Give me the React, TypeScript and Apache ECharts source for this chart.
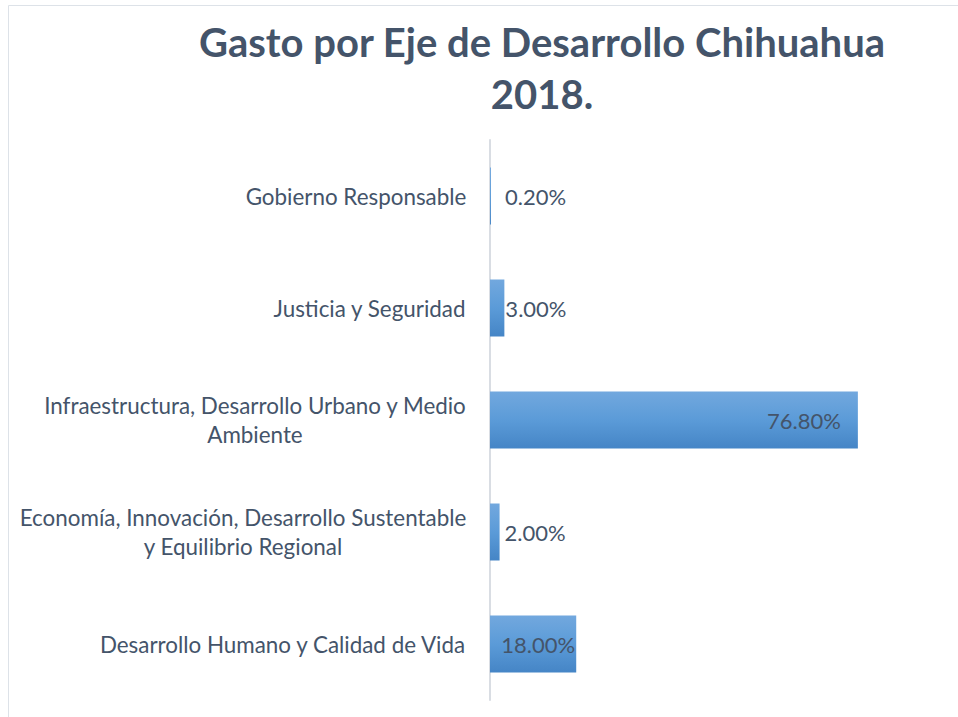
import React, { useEffect, useRef } from "react";
import * as echarts from "echarts";

const titleLines = ["Gasto por Eje de Desarrollo Chihuahua", "2018."];
const categoryLines: string[][] = [
  ["Gobierno Responsable"],
  ["Justicia y Seguridad"],
  ["Infraestructura, Desarrollo Urbano y Medio", "Ambiente"],
  ["Economía, Innovación, Desarrollo Sustentable", "y Equilibrio Regional"],
  ["Desarrollo Humano y Calidad de Vida"],
];
const values = [0.2, 3.0, 76.8, 2.0, 18.0];
const labelPositions = ["right", "right", "insideRight", "right", "insideRight"];
const labelDistances = [14, 1, 17, 5, 1];

const TEXT = "#44546A";
const FONT = "Lato";
const CAT_SIZE = 22.4;
const VAL_SIZE = 22;

export default function App() {
  const ref = useRef<HTMLDivElement>(null);
  useEffect(() => {
    if (!ref.current) return;
    const chart = echarts.init(ref.current, undefined, { renderer: "svg" });
    const canvas = document.createElement("canvas");
    const ctx = canvas.getContext("2d")!;
    ctx.font = `${CAT_SIZE}px ${FONT}`;
    const rich: Record<string, any> = {};
    categoryLines.forEach((lines, i) => {
      const w = Math.max(...lines.map((l) => ctx.measureText(l).width));
      rich["c" + i] = {
        width: Math.ceil(w) + 1,
        align: "center",
        fontSize: CAT_SIZE,
        fontFamily: FONT,
        color: TEXT,
        lineHeight: 29,
      };
    });
    const option: any = {
      animation: false,
      backgroundColor: "#ffffff",
      title: {
        text: titleLines.join("\n"),
        left: 537,
        top: 11,
        textAlign: "center",
        textStyle: {
          fontFamily: FONT,
          fontWeight: "bold",
          fontSize: 40,
          color: TEXT,
          lineHeight: 52,
        },
      },
      graphic: [
        {
          type: "rect",
          shape: { x: 8.5, y: 5.5, width: 1000, height: 800 },
          style: { fill: "none", stroke: "#dde2e8", lineWidth: 1 },
          silent: true,
        },
      ],
      grid: { left: 490, top: 140, width: 479, height: 560 },
      xAxis: {
        type: "value",
        min: 0,
        max: 100,
        show: false,
      },
      yAxis: {
        type: "category",
        inverse: true,
        data: categoryLines.map((l) => l.join(" ")),
        axisLine: { show: true, lineStyle: { color: "#d9dde3", width: 2 } },
        axisTick: { show: false },
        axisLabel: {
          margin: 23,
          formatter: (_v: string, i: number) =>
            categoryLines[i].map((l) => `{c${i}|${l}}`).join("\n"),
          rich,
        },
      },
      series: [
        {
          type: "bar",
          barWidth: 57,
          data: values.map((v, i) => ({
            value: v,
            label: {
              show: true,
              position: labelPositions[i],
              distance: labelDistances[i],
            },
          })),
          itemStyle: {
            color: new echarts.graphic.LinearGradient(0, 0, 0, 1, [
              { offset: 0, color: "#72a8de" },
              { offset: 0.5, color: "#5b9bd8" },
              { offset: 1, color: "#4585c6" },
            ]),
          },
          label: {
            show: true,
            fontFamily: FONT,
            fontSize: VAL_SIZE,
            color: TEXT,
            formatter: (p: any) => p.value.toFixed(2) + "%",
          },
        },
      ],
    };
    chart.setOption(option);
    return () => chart.dispose();
  }, []);
  return (
    <div
      ref={ref}
      style={{ position: "fixed", left: 0, top: 0, width: 1000, height: 717 }}
    />
  );
}
